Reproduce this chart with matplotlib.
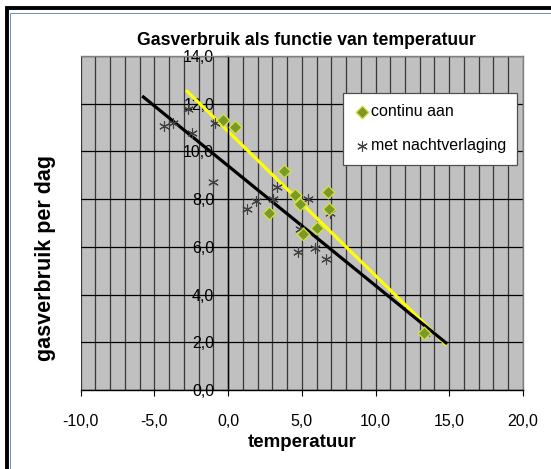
import numpy as np
import matplotlib
matplotlib.use("Agg")
import matplotlib.pyplot as plt
from matplotlib.ticker import MultipleLocator, FuncFormatter
from matplotlib.patches import Rectangle

plt.rcParams['font.family'] = ['Liberation Sans', 'DejaVu Sans']

# continu aan (green diamonds)
temp_continu = [-0.33, 0.48, 3.76, 2.78, 4.52, 4.90, 5.05, 6.05, 6.76, 6.86, 13.29]
gas_continu = [11.31, 11.01, 9.20, 7.40, 8.18, 7.80, 6.54, 6.79, 8.30, 7.59, 2.38]

# met nachtverlaging (stars)
temp_nacht = [-4.38, -3.71, -2.70, -2.45, -0.90, -1.00, 1.25, 1.88, 3.07, 3.31,
              5.43, 4.71, 4.88, 5.90, 6.67, 6.90, 13.33]
gas_nacht = [11.08, 11.21, 11.77, 10.77, 11.20, 8.70, 7.58, 7.93, 8.00, 8.50,
             8.01, 5.78, 6.76, 5.96, 5.48, 7.41, 2.41]

# x extent of the excel trendlines
trend_x_continu = [-2.86, 14.81]
trend_x_nacht = [-5.83, 14.86]

fmt = FuncFormatter(lambda v, p: ("%.1f" % v).replace(".", ","))

fig = plt.figure(figsize=(5.51, 4.69), dpi=100)
ax = fig.add_axes([0.1465, 0.1684, 0.8025, 0.7122])
ax.set_facecolor("#c0c0c0")

ax.set_xlim(-10, 20)
ax.set_ylim(0, 14)
ax.xaxis.set_major_locator(MultipleLocator(5))
ax.xaxis.set_minor_locator(MultipleLocator(1))
ax.yaxis.set_major_locator(MultipleLocator(2))
ax.xaxis.set_major_formatter(fmt)
ax.yaxis.set_major_formatter(fmt)

ax.grid(True, which="both", axis="x", color="#383838", lw=0.9)
ax.grid(True, which="major", axis="y", color="#000000", lw=0.9)
ax.set_axisbelow(True)

ax.spines["left"].set_position(("data", 0))
ax.spines["left"].set_color("black")
ax.spines["bottom"].set_color("black")
ax.spines["top"].set_color("#808080")
ax.spines["right"].set_color("#808080")
for s in ax.spines.values():
    s.set_linewidth(1.0)

ax.tick_params(axis="x", which="major", direction="out", length=4, pad=13, labelsize=11.5)
ax.tick_params(axis="x", which="minor", length=0)
ax.tick_params(axis="y", direction="out", length=4, pad=6, labelsize=11.5)
for lab in ax.get_yticklabels():
    lab.set_zorder(5)

# trendlines
for tx, ty, xs, col in [(temp_continu, gas_continu, trend_x_continu, "#ffff00"),
                        (temp_nacht, gas_nacht, trend_x_nacht, "black")]:
    k, b = np.polyfit(tx, ty, 1)
    xs = np.array(xs)
    ax.plot(xs, k * xs + b, color=col, lw=2.3, zorder=2, solid_capstyle="butt")

ax.scatter(temp_nacht, gas_nacht, marker=(6, 2, 0), s=50, color="#404040",
           linewidths=0.8, zorder=3, label="met nachtverlaging")
ax.scatter(temp_continu, gas_continu, marker="D", s=42, facecolor="#7a9a28",
           edgecolor="#d8e040", linewidths=0.9, zorder=4, label="continu aan")

h, l = ax.get_legend_handles_labels()
leg = ax.legend(h[::-1], l[::-1], loc="upper left", bbox_to_anchor=(0.593, 0.889),
                frameon=True, fancybox=False, framealpha=1, edgecolor="#505050",
                fontsize=11.5, labelspacing=1.2, handletextpad=0.05,
                handlelength=1.0, borderpad=0.7, borderaxespad=0)
leg.get_frame().set_linewidth(0.9)

ax.set_title("Gasverbruik als functie van temperatuur", fontsize=12.7,
             fontweight="bold", pad=8, x=0.51)
ax.set_xlabel("temperatuur", fontsize=13.5, fontweight="bold", labelpad=4)
fig.text(0.083, 0.45, "gasverbruik per dag", rotation=90, fontsize=15.5,
         fontweight="bold", ha="center", va="center")

# chart area frame (cut at right and bottom)
fig.patches.append(Rectangle((0.0136, -0.1), 1.2, 1.084, transform=fig.transFigure,
                             fill=False, edgecolor="black", lw=2.8))
fig.patches.append(Rectangle((0.019, -0.1), 1.2, 1.0725, transform=fig.transFigure,
                             fill=False, edgecolor="#7090c0", lw=0.7))

fig.savefig("out.png", dpi=100)
